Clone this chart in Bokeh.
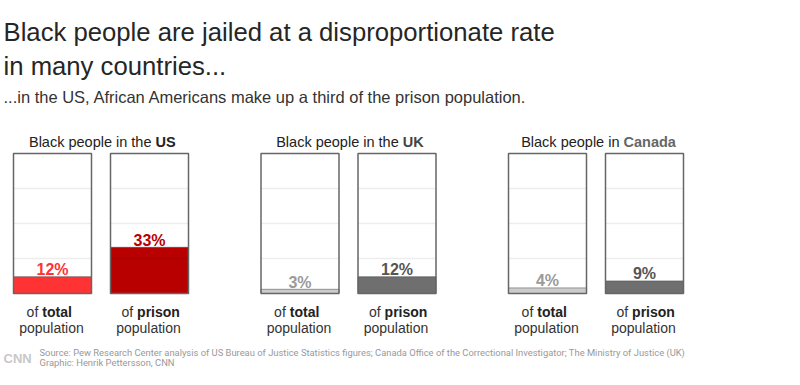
from bokeh.plotting import figure
from bokeh.models import Range1d, ColumnDataSource
from bokeh.core.properties import value
from bokeh.embed import file_html
from bokeh.resources import INLINE

# ---------------- data ----------------
title_lines = ["Black people are jailed at a disproportionate rate", "in many countries..."]
subtitle = "...in the US, African Americans make up a third of the prison population."
countries = ["US", "UK", "Canada"]
country_prefix = ["Black people in the", "Black people in the", "Black people in"]
total_share = [12, 3, 4]      # % of total population
prison_share = [33, 12, 9]    # % of prison population
bottom_words = ["total", "prison"]
source_lines = [
    "Source: Pew Research Center analysis of US Bureau of Justice Statistics figures; Canada Office of the Correctional Investigator; The Ministry of Justice (UK)",
    "Graphic: Henrik Pettersson, CNN",
]

# ---------------- styles ----------------
FONT = "Liberation Sans"
total_fill = ["#ff3333", "#cccccc", "#cccccc"]
prison_fill = ["#b90000", "#6f6f6f", "#6f6f6f"]
total_label_color = ["#ff3333", "#9a9a9a", "#9a9a9a"]
prison_label_color = ["#b90000", "#555555", "#555555"]
country_color = ["#222222", "#444444", "#666666"]

# ---------------- layout ----------------
W, H = 784, 369
PX = 1.4            # pixels per percentage point (box is 140 px tall)
BOX_BOTTOM = 293    # pixel row of box bottom


def Y(py):
    return (BOX_BOTTOM - py) / PX


group_left = [13, 260.5, 508]
inner = 97
bw = 78
title_split = [142, 141.7, 115]

p = figure(width=W, height=H, x_range=Range1d(0, W), y_range=Range1d(Y(H), Y(0)),
           output_backend="svg", toolbar_location=None, min_border=0,
           x_axis_location=None, y_axis_location=None)
p.grid.visible = False
p.outline_line_color = None
p.background_fill_color = "white"
p.border_fill_color = "white"

# boxes / bars
lefts, rights, tops, fills = [], [], [], []
lab_x, lab_y, lab_t, lab_c = [], [], [], []
for i, c in enumerate(countries):
    for j, (val, fc, lc) in enumerate([(total_share[i], total_fill[i], total_label_color[i]),
                                       (prison_share[i], prison_fill[i], prison_label_color[i])]):
        l = group_left[i] + j * inner
        lefts.append(l)
        rights.append(l + bw)
        tops.append(val)
        fills.append(fc)
        lab_x.append(l + bw / 2)
        lab_y.append(val)
        lab_t.append(f"{val}%")
        lab_c.append(lc)

bars = ColumnDataSource(dict(left=lefts, right=rights, top=tops, fill=fills))
p.quad(left="left", right="right", bottom=0, top="top", fill_color="fill",
       line_color="#444444", line_alpha=0.5, line_width=1, source=bars)

# gridlines on top of bars
gx0, gx1, gy = [], [], []
for l in lefts:
    for g in (25, 50, 75):
        gx0.append(l)
        gx1.append(l + bw)
        gy.append(g)
p.segment(x0=gx0, x1=gx1, y0=gy, y1=gy, line_color="#000000", line_alpha=0.07, line_width=1.5)

# box outlines
p.quad(left=lefts, right=rights, bottom=0, top=100, fill_alpha=0,
       line_color="#666666", line_width=1.5)

# percent labels
p.text(x=lab_x, y=lab_y, text=lab_t, text_color=lab_c, text_font=value(FONT),
       text_font_style="bold", text_font_size="16px", text_align="center",
       text_baseline="alphabetic", y_offset=-7)

# title + subtitle
p.text(x=[3, 3], y=[Y(31.7), Y(65)], text=title_lines, text_color="#262626",
       text_font=value(FONT), text_font_size="25.7px", text_baseline="alphabetic")
p.text(x=[3], y=[Y(96)], text=[subtitle], text_color="#333333",
       text_font=value(FONT), text_font_size="16.5px", text_baseline="alphabetic")

# country titles
sx = [g + s for g, s in zip(group_left, title_split)]
p.text(x=[s - 4 for s in sx], y=[Y(141)] * 3, text=country_prefix, text_color="#222222",
       text_font=value(FONT), text_font_size="14.5px", text_align="right",
       text_baseline="alphabetic")
p.text(x=sx, y=[Y(141)] * 3, text=countries, text_color=country_color,
       text_font=value(FONT), text_font_style="bold", text_font_size="14.5px",
       text_align="left", text_baseline="alphabetic")

# bottom labels
of_x, word_x, word_t, pop_x = [], [], [], []
for i in range(3):
    for j, off in enumerate((28.8, 26.6)):
        l = group_left[i] + j * inner
        of_x.append(l + off - 4)
        word_x.append(l + off)
        word_t.append(bottom_words[j])
        pop_x.append(l + bw / 2 - 1)
p.text(x=of_x, y=[Y(311.7)] * 6, text=["of"] * 6, text_color="#333333",
       text_font=value(FONT), text_font_size="14px", text_align="right",
       text_baseline="alphabetic")
p.text(x=word_x, y=[Y(311.7)] * 6, text=word_t, text_color="#222222",
       text_font=value(FONT), text_font_style="bold", text_font_size="14px",
       text_align="left", text_baseline="alphabetic")
p.text(x=pop_x, y=[Y(327)] * 6, text=["population"] * 6, text_color="#333333",
       text_font=value(FONT), text_font_size="14px", text_align="center",
       text_baseline="alphabetic")

# footer
p.text(x=[3], y=[Y(358)], text=["CNN"], text_color="#c8c8c8", text_font=value(FONT),
       text_font_style="bold", text_font_size="13px", text_baseline="alphabetic")
p.text(x=[39, 39], y=[Y(352), Y(361.5)], text=source_lines, text_color="#999999",
       text_font=value("Roboto"), text_font_size="9.4px", text_baseline="alphabetic")

open("out.html", "w").write(file_html(p, INLINE))
